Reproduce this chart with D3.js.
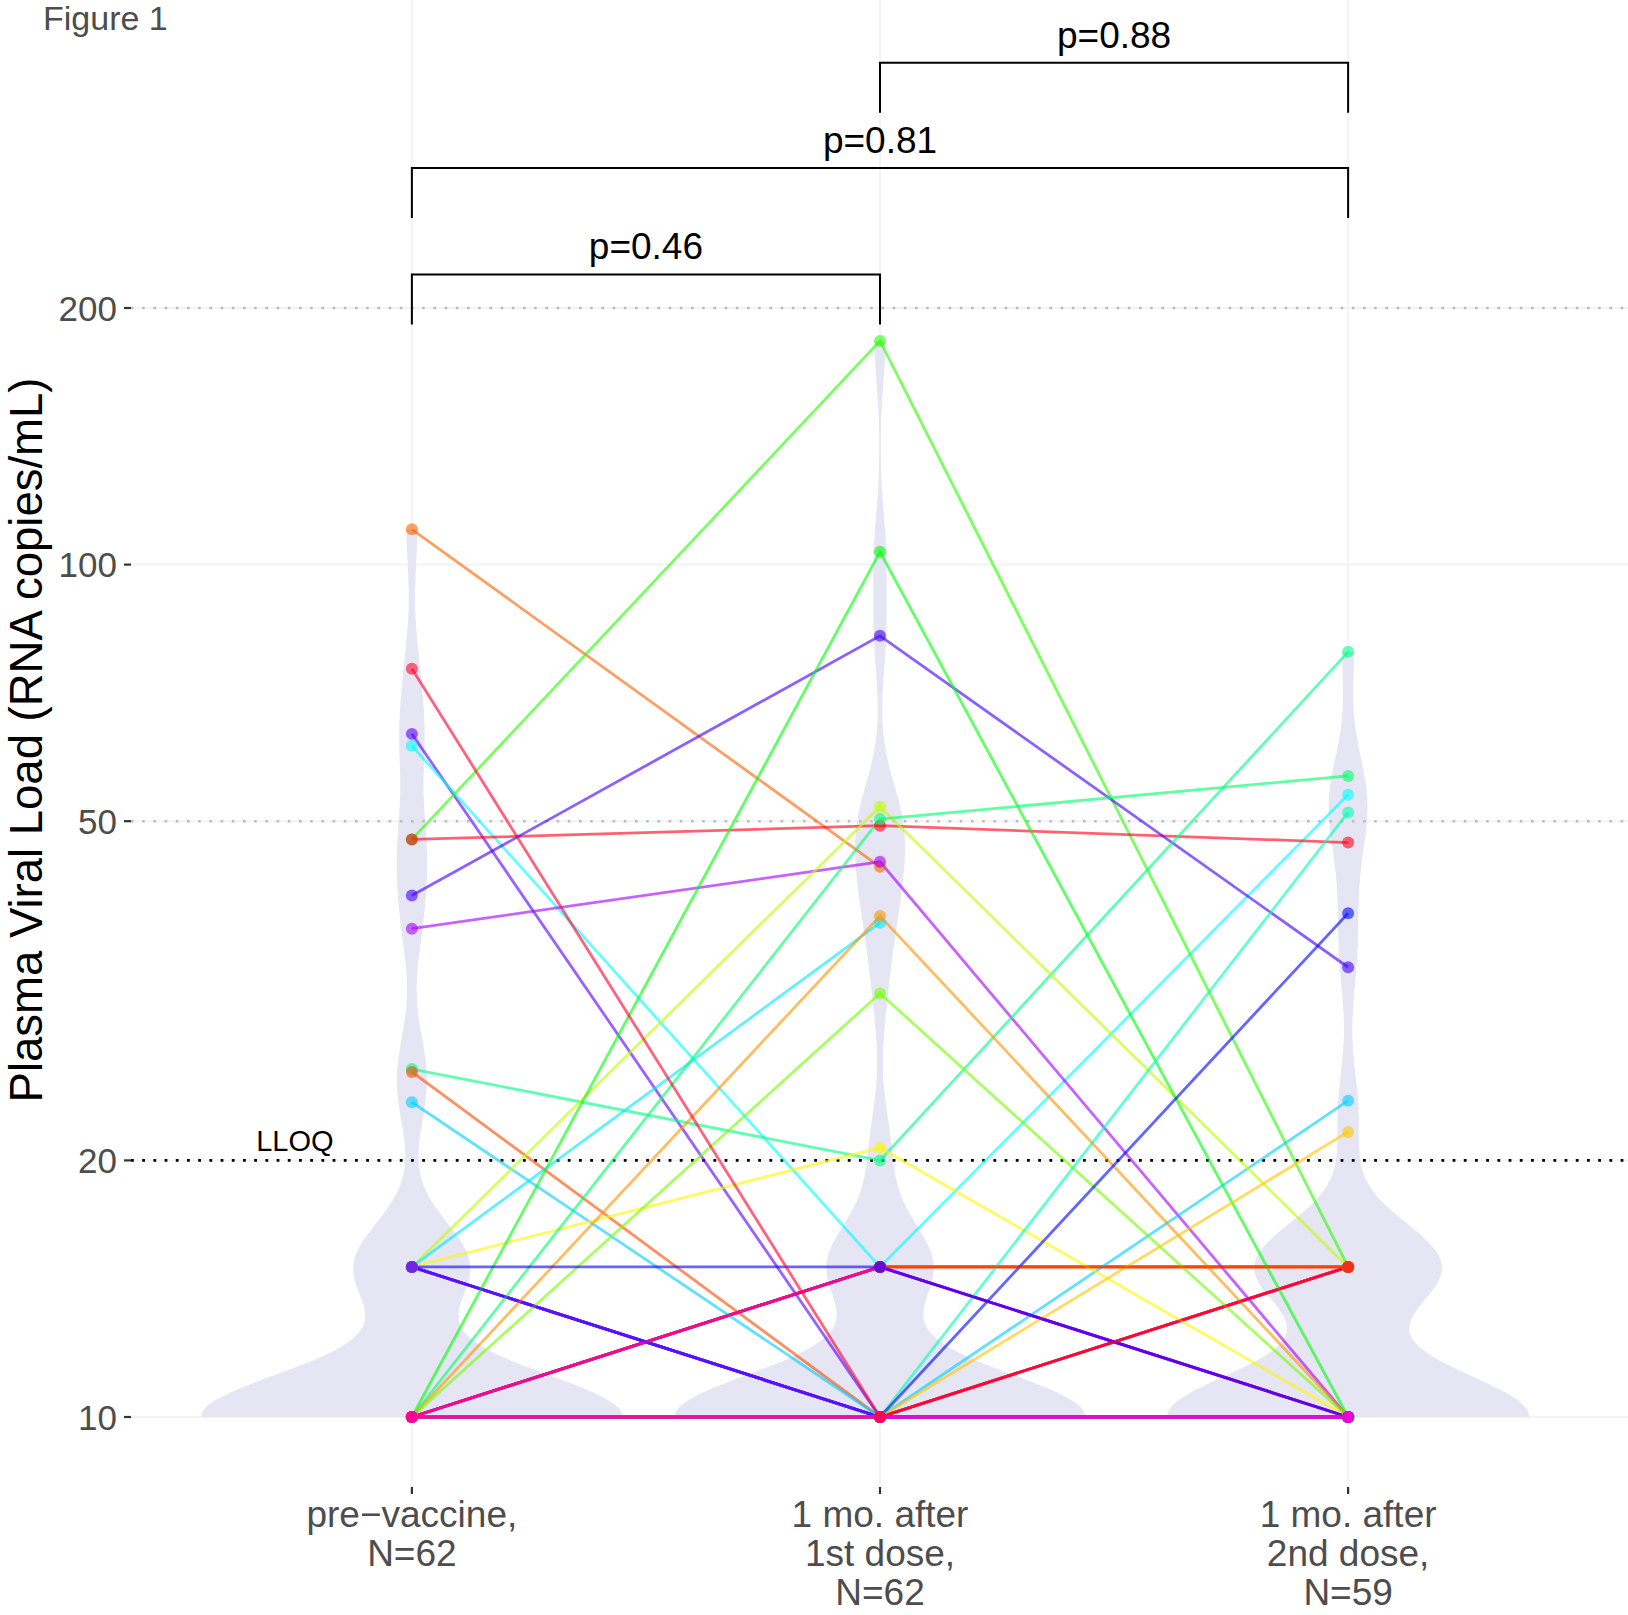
<!DOCTYPE html>
<html><head><meta charset="utf-8">
<script src="https://cdn.jsdelivr.net/npm/d3@7"></script>
<style>
body{margin:0;background:#fff}
svg{display:block}
text{font-family:"Liberation Sans",Arial,Helvetica,sans-serif}
</style>
</head><body>
<svg id="chart" width="1628" height="1615"></svg>
<script>
// ---------------- DATA ----------------
const timepoints = ["pre", "dose1", "dose2"];
const timepointLabels = [
  ["pre\u2212vaccine,", "N=62"],
  ["1 mo. after", "1st dose,", "N=62"],
  ["1 mo. after", "2nd dose,", "N=59"]
];
// subject IDs in drawing order (colour comes from the ID)
const subjectId = [1,2,6, 44,47,50, 51,52, 53,39,40,41,
  38,8,10,12,13,57,59,60,
  15,16,18,19,21,23,24,25,28,30,31,35,36,37,
  5,46,32,20,62,45,49,27,4,34,14,33,11,22,26,7,17,29,42,9,
  3,56,43,48,55,54,58,61];
// plasma viral load (RNA copies/mL) per subject, same order
const preVals = [10,10,10, 10,10,10, 15,15, 15,15,15,15,
  10,10,10,10,10,10,10,10,
  10,10,10,10,10,10,10,10,10,10,10,10,10,10,
  110,63.3,61.3,47.6,47.6,40.9,37.4,25.6,25.4,23.4,15,15,15,10,10,10,10,10,10,10,
  10,10,15,15,10,10,10,75.5];
const dose1Vals = [15,15,15, 15,15,15, 10,10, 10,10,10,10,
  10,10,10,10,10,10,10,10,
  10,10,10,10,10,10,10,10,10,10,10,10,10,10,
  44.2,10,15,183,49.4,82.5,44.8,20,10,10,52,38,20.7,103.5,50.3,38.7,31.4,10,10,10,
  15,15,15,10,10,10,10,10];
const dose2Vals = [15,15,15, 10,10,10, 15,15, 10,10,10,10,
  15,15,15,15,15,15,15,15,
  10,10,10,10,10,10,10,10,10,10,10,10,10,10,
  null,10,53.7,15,47.2,33.7,10,79,10,23.5,15,null,10,10,56.5,10,10,51.2,39,21.6,
  15,10,10,10,10,10,null,15];

const yTicks = [10, 20, 50, 100, 200];
const guideLevels = [200, 50];
const lloqLevel = 20;
const lloqLabel = "LLOQ";
const comparisons = [["pre", "dose1"], ["pre", "dose2"], ["dose1", "dose2"]];
const pLabels = ["p=0.46", "p=0.81", "p=0.88"];
const bracketLevels = [219, 292, 388];
const figureTag = "Figure 1";
const yTitle = "Plasma Viral Load (RNA copies/mL)";

// ---------------- SETUP ----------------
const W = 1628, H = 1615;
const panel = {left: 131, right: 1629, top: 0, bottom: 1487};
const svg = d3.select("#chart");
const x = d3.scalePoint().domain(timepoints).range([panel.left, panel.right]).padding(0.6);
const y = d3.scaleLog().domain([10, 200]).range([1417, 308]);
const step = x.step();
const nSubj = subjectId.length;
const color = id => d3.hsl((id - 1) * 360 / nSubj, 1, 0.5).formatHex();
const seriesByTp = {pre: preVals, dose1: dose1Vals, dose2: dose2Vals};

// gridlines
const grid = svg.append("g");
grid.selectAll("line.h").data(yTicks).join("line")
  .attr("x1", panel.left).attr("x2", W).attr("y1", d => y(d)).attr("y2", d => y(d))
  .attr("stroke", "#f3f3f3").attr("stroke-width", 2);
grid.selectAll("line.v").data(timepoints).join("line")
  .attr("x1", d => x(d)).attr("x2", d => x(d)).attr("y1", panel.top).attr("y2", panel.bottom)
  .attr("stroke", "#f3f3f3").attr("stroke-width", 2);

// ---------------- VIOLINS (KDE like ggplot stat_ydensity) ----------------
function nrd0(v) {
  const hi = d3.deviation(v);
  const iqr = d3.quantile(v, 0.75) - d3.quantile(v, 0.25);
  let lo = Math.min(hi, iqr / 1.34);
  if (!(lo > 0)) lo = hi || Math.abs(v[0]) || 1;
  return 0.9 * lo * Math.pow(v.length, -0.2);
}
const violins = timepoints.map(tp => {
  const v = seriesByTp[tp].filter(d => d != null).map(d => Math.log10(d));
  const bw = nrd0(v);
  const lo = d3.min(v), hi = d3.max(v);
  const pts = d3.range(512).map(i => {
    const t = lo + (hi - lo) * i / 511;
    let s = 0;
    for (const xi of v) { const z = (t - xi) / bw; s += Math.exp(-0.5 * z * z); }
    return {t, d: s / (v.length * bw * Math.sqrt(2 * Math.PI))};
  });
  return {tp, pts};
});
const maxD = d3.max(violins, g => d3.max(g.pts, p => p.d));
const half = 0.45 * step;
const area = d3.area().curve(d3.curveLinear);
svg.append("g").selectAll("path").data(violins).join("path")
  .attr("d", g => area
    .y(p => y(Math.pow(10, p.t)))
    .x0(p => x(g.tp) - half * p.d / maxD)
    .x1(p => x(g.tp) + half * p.d / maxD)(g.pts))
  .attr("fill", "#e5e5f3");

// ---------------- REFERENCE LINES ----------------
svg.append("g").selectAll("line").data(guideLevels).join("line")
  .attr("x1", panel.left).attr("x2", W).attr("y1", d => y(d)).attr("y2", d => y(d))
  .attr("stroke", "#bdbdbd").attr("stroke-width", 2.4).attr("stroke-dasharray", "2.6,8.6");
svg.append("line")
  .attr("x1", panel.left).attr("x2", W).attr("y1", y(lloqLevel)).attr("y2", y(lloqLevel))
  .attr("stroke", "#000").attr("stroke-width", 2.8).attr("stroke-dasharray", "2.8,8.4");
svg.append("text").attr("x", x("pre") - 0.25 * step).attr("y", y(lloqLevel) - 9)
  .attr("text-anchor", "middle").attr("font-size", 29).attr("fill", "#000").text(lloqLabel);

// ---------------- SUBJECT LINES & POINTS ----------------
const subjects = subjectId.map((id, i) => ({
  id,
  pts: timepoints.map(tp => ({tp, v: seriesByTp[tp][i]})).filter(p => p.v != null)
}));
const line = d3.line().x(p => x(p.tp)).y(p => y(p.v));
svg.append("g").selectAll("path").data(subjects).join("path")
  .attr("d", s => line(s.pts)).attr("fill", "none")
  .attr("stroke", s => color(s.id)).attr("stroke-opacity", 0.62).attr("stroke-width", 2.8);
const allPts = subjects.flatMap(s => s.pts.map(p => ({id: s.id, tp: p.tp, v: p.v})));
svg.append("g").selectAll("circle").data(allPts).join("circle")
  .attr("cx", p => x(p.tp)).attr("cy", p => y(p.v)).attr("r", 6)
  .attr("fill", p => color(p.id)).attr("fill-opacity", 0.6);

// ---------------- SIGNIFICANCE BRACKETS ----------------
const tip = 0.0588; // decades
const br = svg.append("g");
comparisons.forEach((c, i) => {
  const lv = bracketLevels[i];
  const yt = y(lv), yb = y(lv / Math.pow(10, tip));
  const xa = x(c[0]), xb = x(c[1]);
  br.append("path").attr("d", `M${xa},${yb}V${yt}H${xb}V${yb}`)
    .attr("fill", "none").attr("stroke", "#000").attr("stroke-width", 2);
  br.append("text").attr("x", (xa + xb) / 2).attr("y", yt - 15)
    .attr("text-anchor", "middle").attr("font-size", 37).attr("fill", "#000").text(pLabels[i]);
});

// ---------------- AXES ----------------
const yAxis = svg.append("g");
yAxis.selectAll("line").data(yTicks).join("line")
  .attr("x1", panel.left - 7).attr("x2", panel.left).attr("y1", d => y(d)).attr("y2", d => y(d))
  .attr("stroke", "#333").attr("stroke-width", 2.2);
yAxis.selectAll("text").data(yTicks).join("text")
  .attr("x", 117).attr("y", d => y(d) + 12.8).attr("text-anchor", "end")
  .attr("font-size", 35).attr("fill", "#4d4d4d").text(d => d);

const xAxis = svg.append("g");
xAxis.selectAll("line").data(timepoints).join("line")
  .attr("x1", d => x(d)).attr("x2", d => x(d)).attr("y1", panel.bottom).attr("y2", panel.bottom + 7)
  .attr("stroke", "#333").attr("stroke-width", 2.2);
timepoints.forEach((tp, i) => {
  const t = xAxis.append("text").attr("text-anchor", "middle").attr("font-size", 37).attr("fill", "#4d4d4d");
  timepointLabels[i].forEach((ln, j) => {
    t.append("tspan").attr("x", x(tp)).attr("y", 1527 + j * 39).text(ln);
  });
});

svg.append("text").attr("transform", `translate(42,740) rotate(-90)`)
  .attr("text-anchor", "middle").attr("font-size", 45.5).attr("fill", "#000").text(yTitle);
svg.append("text").attr("x", 43).attr("y", 30).attr("font-size", 34).attr("fill", "#4d4d4d").text(figureTag);
</script>
</body></html>
